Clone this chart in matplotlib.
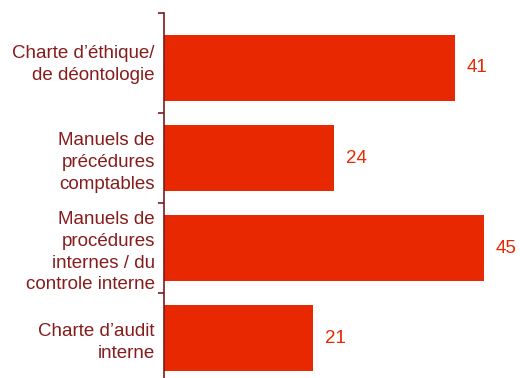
import matplotlib.pyplot as plt
from matplotlib.transforms import ScaledTranslation

# Documents in place (number of responses)
categories = [
    "Charte d\u2019éthique/\nde déontologie",
    "Manuels de\nprécédures\ncomptables",
    "Manuels de\nprocédures\ninternes / du\ncontrole interne",
    "Charte d\u2019audit\ninterne",
]
values = [41, 24, 45, 21]

bar_color = "#e82800"
label_color = "#861c1c"
axis_color = "#7a1c1c"

plt.rcParams['font.family'] = ['Liberation Sans', 'DejaVu Sans']

fig = plt.figure(figsize=(5.2, 3.78), dpi=100)
ax = fig.add_axes([164 / 520, 0, 356 / 520, 365 / 378])

positions = list(range(len(categories)))
ax.barh(positions, values, height=0.73, color=bar_color)

for pos, val in zip(positions, values):
    ax.annotate(str(val), xy=(val, pos), xytext=(8.5, 0), textcoords="offset points",
                ha="left", va="center", fontsize=13.5, color=bar_color)

ax.set_xlim(0, 356 / 7.1)
ax.set_ylim(3.444, -0.611)

ax.set_yticks(positions)
ax.set_yticklabels(categories, fontsize=13.5, color=label_color, ha="right",
                   multialignment="right", linespacing=1.36)
ax.tick_params(axis="y", which="major", length=0, pad=6.5)
ax.set_yticks([-0.611, 0.5, 1.5, 2.5], minor=True)
ax.tick_params(axis="y", which="minor", length=4.5, width=1.2, color=axis_color)
ax.set_xticks([])

# the first label sits a little above its bar
first = ax.get_yticklabels()[0]
first.set_transform(first.get_transform() + ScaledTranslation(0, 8 / 100, fig.dpi_scale_trans))

for side in ["top", "right", "bottom"]:
    ax.spines[side].set_visible(False)
ax.spines["left"].set_color(axis_color)
ax.spines["left"].set_linewidth(1.2)

fig.savefig("out.png", dpi=100)
